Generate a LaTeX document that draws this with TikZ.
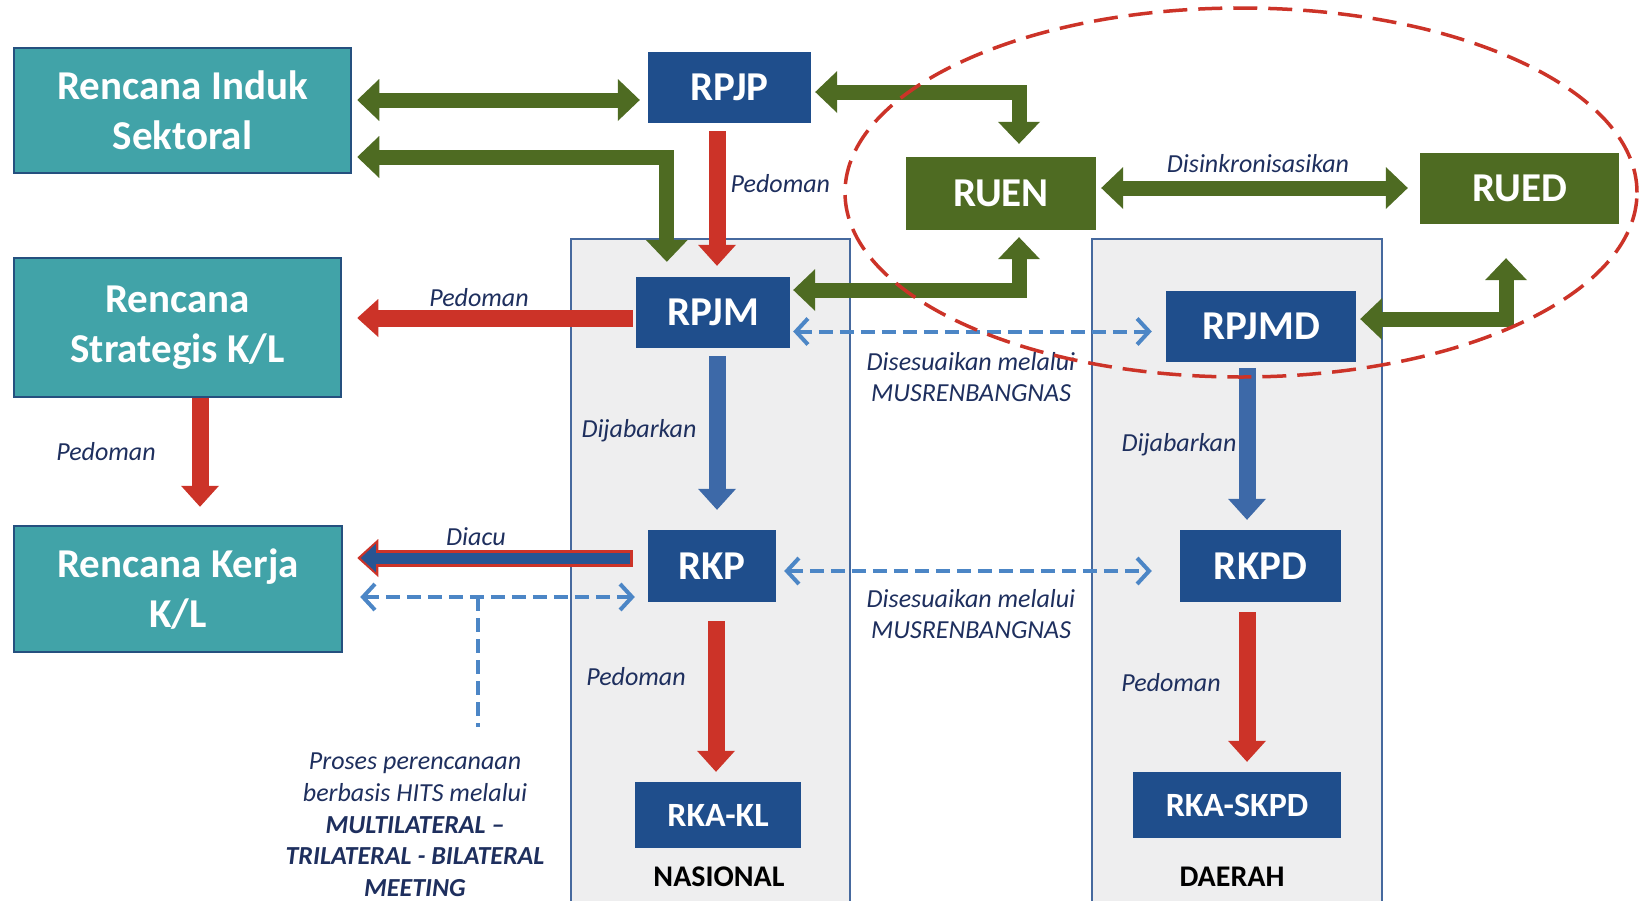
\documentclass[tikz,border=0pt]{standalone}
\usepackage{fontspec}
\setmainfont{Carlito}
\usetikzlibrary{arrows.meta,calc}
\definecolor{cTeal}{HTML}{41A3A8}
\definecolor{cTealEdge}{HTML}{25507F}
\definecolor{cNavy}{HTML}{1F4E8C}
\definecolor{cGreen}{HTML}{4E6B22}
\definecolor{cRed}{HTML}{CC3328}
\definecolor{cBlueArr}{HTML}{3D69A8}
\definecolor{cDash}{HTML}{4C86C6}
\definecolor{cLbl}{HTML}{1E2F5E}
\definecolor{cPanel}{HTML}{EEEEEF}
\definecolor{cPanelEdge}{HTML}{46699E}
\tikzset{
  GT/.tip={Triangle[width=42pt,length=22pt,line width=0pt]},
  RT/.tip={Triangle[width=38pt,length=21pt,line width=0pt]},
  IT/.tip={Triangle[width=28pt,length=15pt,line width=0pt]},
  DT/.tip={Straight Barb[width=26pt,length=12pt]},
  boxfont/.style={font=\fontsize{41}{50}\selectfont\bfseries},
  smallbox/.style={font=\fontsize{34}{40}\selectfont\bfseries},
  sz/.style 2 args={minimum width=#1pt, minimum height=#2pt},
  tealbox/.style={draw=cTealEdge, line width=2.5pt, fill=cTeal, text=white, align=center, inner sep=0pt, boxfont},
  navybox/.style={fill=cNavy, text=white, inner sep=0pt, boxfont},
  greenbox/.style={fill=cGreen, text=white, inner sep=0pt, boxfont},
  panel/.style={draw=cPanelEdge, line width=2pt, fill=cPanel, inner sep=0pt},
  paneltitle/.style={text=black, font=\fontsize{30}{34}\selectfont\bfseries, inner sep=0pt},
  garr/.style={draw=cGreen, line width=15pt, line join=miter, GT-GT},
  rarr/.style={draw=cRed, line width=17pt, -RT},
  barr/.style={draw=cBlueArr, line width=17pt, -RT},
  darr/.style={draw=cDash, line width=4pt, dash pattern=on 14pt off 7pt, DT-DT},
  dline/.style={draw=cDash, line width=4pt, dash pattern=on 14pt off 7pt},
  lbl/.style={text=cLbl, font=\fontsize{26}{31}\selectfont\itshape, inner sep=0pt},
  oval/.style={draw=cRed, line width=3.5pt, dash pattern=on 24pt off 11pt},
}
\begin{document}
\begin{tikzpicture}[x=1pt,y=-1pt]
\useasboundingbox[fill=white] (0,0) rectangle (1640,900);
% panels
\node[panel, sz={279}{670}, anchor=north west] (nas) at (570,238) {};
\node[panel, sz={290}{670}, anchor=north west] (dae) at (1091,238) {};
\node[paneltitle] (nastxt) at (719,877) {NASIONAL};
\node[paneltitle] (daetxt) at (1232,877) {DAERAH};
% boxes
\node[tealbox, sz={337}{125}] (ris) at (182.5,110.5) {Rencana Induk\\Sektoral};
\node[tealbox, sz={327}{139}] (rs) at (177.5,327.5) {Rencana\\Strategis K/L};
\node[tealbox, sz={328}{126}] (rk) at (178,589) {Rencana Kerja\\K/L};
\node[navybox, sz={163}{71}] (rpjp) at (729.5,87.5) {RPJP};
\node[navybox, sz={154}{71}] (rpjm) at (713,312.5) {RPJM};
\node[navybox, sz={128}{72}] (rkp) at (712,566) {RKP};
\node[navybox, sz={166}{66}, smallbox] (rkakl) at (718,815) {RKA-KL};
\node[greenbox, sz={190}{73}] (ruen) at (1001,193.5) {RUEN};
\node[greenbox, sz={199}{71}] (rued) at (1519.5,188.5) {RUED};
\node[navybox, sz={190}{71}] (rpjmd) at (1261,326.5) {RPJMD};
\node[navybox, sz={161}{72}] (rkpd) at (1260.5,566) {RKPD};
\node[navybox, sz={208}{66}, smallbox] (rkaskpd) at (1237,805) {RKA-SKPD};
% green connectors
\draw[garr] ($(ris.east)+(5,-10.5)$) -- ($(rpjp.west)+(-8,12.5)$);
\draw[garr] ($(ris.east)+(5,46.5)$) -| ($(rpjm.north west)+(31,-15)$);
\draw[garr] ($(rpjp.east)+(4,4.5)$) -| ($(ruen.north)+(18,-13)$);
\draw[garr] ($(rpjm.east)+(3,-22.5)$) -| ($(ruen.south)+(18,7)$);
\draw[garr] ($(ruen.east)+(5,-5.5)$) -- ($(rued.west)+(-12,-0.5)$);
\draw[garr] ($(rpjmd.east)+(4,-7.5)$) -| ($(rued.south)+(-13.5,34)$);
\node[lbl, anchor=base] (lsync) at ($(ruen.east)!0.5!(rued.west)+(0,-19)$) {Disinkronisasikan};
% red / blue connectors
\draw[rarr] ($(rpjp.south)+(-12.5,8)$) -- ($(rpjm.north)+(4,-11)$);
\node[lbl, anchor=west] (l1) at ($(rpjp.south)+(1,60)$) {Pedoman};
\draw[rarr] ($(rpjm.west)+(-3,5.5)$) -- ($(rs.east)+(15,-9.5)$);
\node[lbl] (l2) at (479,298) {Pedoman};
\draw[barr] ($(rpjm.south)+(4,8)$) -- ($(rkp.north)+(5,-20)$);
\node[lbl] (l3) at (639,431) {Dijabarkan};
\draw[rarr] ($(rs.south)+(22.5,0)$) -- ($(rk.north)+(22,-18)$);
\node[lbl] (l4) at (106,452) {Pedoman};
\draw[draw=cRed, line width=17pt, -RT] ($(rkp.west)+(-15,-8)$) -- ($(rk.east)+(14,-31)$);
\draw[draw=cNavy!75!cBlueArr, line width=11pt, -IT, shorten >=3.5pt] ($(rkp.west)+(-18,-8)$) -- ($(rk.east)+(14,-31)$);
\node[lbl] (l5) at (476,537) {Diacu};
\draw[rarr] ($(rkp.south)+(4,19)$) -- ($(rkakl.north)+(-2,-10)$);
\node[lbl] (l6) at (636,677) {Pedoman};
\draw[barr] ($(rpjmd.south)+(-14,6)$) -- ($(rkpd.north)+(-13.5,-10)$);
\node[lbl] (l7) at (1179,445) {Dijabarkan};
\draw[rarr] ($(rkpd.south)+(-13.5,10)$) -- ($(rkaskpd.north)+(10,-10)$);
\node[lbl] (l8) at (1171,683) {Pedoman};
% dashed connectors
\draw[darr] ($(rpjm.east)+(3,19)$) -- ($(rpjmd.west)+(-14,5)$);
\node[lbl, align=center] (l9) at (971,377) {Disesuaikan melalui\\MUSRENBANGNAS};
\draw[darr] ($(rkp.east)+(8,5)$) -- ($(rkpd.west)+(-28,5)$);
\node[lbl, align=center] (l10) at (971,614) {Disesuaikan melalui\\MUSRENBANGNAS};
\draw[darr] ($(rk.east)+(17,8)$) -- ($(rkp.west)+(-13,31)$);
\coordinate (tj) at ($(rk.east)+(135,8)$);
\coordinate (tb) at ($(tj)+(0,130)$);
\draw[dline] (tj) -- (tb);
\node[lbl, align=center, anchor=north, font=\fontsize{26}{31.7}\selectfont\itshape] (proses) at (415,753)
  {Proses perencanaan\\berbasis HITS melalui\\\textbf{MULTILATERAL –}\\\textbf{TRILATERAL - BILATERAL}\\\textbf{MEETING}};
% oval
\draw[oval] (1241,192.5) ellipse [x radius=396pt, y radius=184.5pt];
\end{tikzpicture}
\end{document}
